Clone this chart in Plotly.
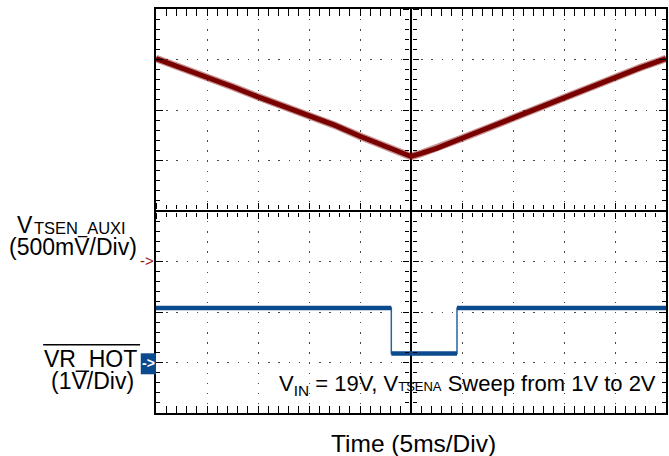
import plotly.graph_objects as go

# ---- waveform data (time in ms relative to trigger, levels in volts) ----
t_red = [-25, -22.5, -20, -17.5, -15, -12.5, -10, -7.5, -5, -2.5, -1, 0,
         1, 2.5, 5, 7.5, 10, 12.5, 15, 17.5, 20, 22.5, 25]
v_red = [2.01, 1.92, 1.83, 1.73, 1.63, 1.54, 1.45, 1.35, 1.24, 1.14, 1.08, 1.04,
         1.07, 1.12, 1.22, 1.32, 1.42, 1.52, 1.63, 1.73, 1.82, 1.92, 2.01]

t_blue = [-25, -1.93, -1.93, 4.51, 4.51, 25]
v_blue = [1.08, 1.08, 0.18, 0.18, 1.08, 1.08]

# channel settings: volts per division and ground marker position (divisions from centre)
red_scale, red_ground = 0.5, -1
blue_scale, blue_ground = 1.0, -3
n_xdiv, n_ydiv = 10, 8
ms_per_div = 5

W, H = 669, 456
L, R, T, B = 156, 1, 9, 43
PW, PH = W - L - R, H - T - B

FONT = "Liberation Sans, Arial, sans-serif"
RED = "#7a0000"
BLUE = "#0b4a8c"


def px(xp):
    return (xp - L) / PW


def py(yp):
    return (H - B - yp) / PH


def ch_range(scale, ground):
    half = n_ydiv / 2
    return [(-half - ground) * scale, (half - ground) * scale]


xr = [-n_xdiv / 2 * ms_per_div, n_xdiv / 2 * ms_per_div]
yr = [-n_ydiv / 2, n_ydiv / 2]

fig = go.Figure()

# empty trace so the division grid subplot is laid out
fig.add_trace(go.Scatter(x=[None], y=[None], xaxis="x", yaxis="y", showlegend=False))

# red channel: soft halo plus core line
fig.add_trace(go.Scatter(x=t_red, y=v_red, xaxis="x", yaxis="y2", mode="lines",
                         line=dict(color="rgba(130,10,10,0.45)", width=7.5),
                         hoverinfo="skip", showlegend=False))
fig.add_trace(go.Scatter(x=t_red, y=v_red, xaxis="x", yaxis="y2", mode="lines",
                         line=dict(color=RED, width=5), showlegend=False))

# blue channel: thin edges, thick flat runs
fig.add_trace(go.Scatter(x=t_blue, y=v_blue, xaxis="x", yaxis="y3", mode="lines",
                         line=dict(color="#2a62a3", width=1.5), showlegend=False))
run_x, run_y = [], []
for i in range(len(t_blue) - 1):
    if v_blue[i] == v_blue[i + 1]:
        run_x += [t_blue[i], t_blue[i + 1], None]
        run_y += [v_blue[i], v_blue[i + 1], None]
fig.add_trace(go.Scatter(x=run_x, y=run_y, xaxis="x", yaxis="y3", mode="lines",
                         line=dict(color=BLUE, width=4.5), showlegend=False))

xdot = PH / n_ydiv / 5
ydot = PW / n_xdiv / 5

common = dict(showticklabels=False, tickcolor="black", fixedrange=True)

fig.update_layout(
    width=W, height=H, autosize=False,
    margin=dict(l=L, r=R, t=T, b=B, pad=0),
    paper_bgcolor="white", plot_bgcolor="rgba(0,0,0,0)",
    showlegend=False,
    xaxis=dict(range=xr, dtick=ms_per_div, tick0=0, domain=[0, 1], anchor="y",
               showgrid=True, gridcolor="#4a4a4a", gridwidth=1.2,
               griddash=f"1.3px,{xdot - 1.3:.1f}px",
               zeroline=True, zerolinecolor="black", zerolinewidth=1.5,
               showline=True, linecolor="black", linewidth=1.5, mirror="allticks",
               ticks="inside", ticklen=7, tickwidth=1.2,
               minor=dict(dtick=1, ticks="inside", ticklen=4, tickwidth=1,
                          tickcolor="black", showgrid=False),
               **common),
    yaxis=dict(range=yr, dtick=1, tick0=0, domain=[0, 1], anchor="x",
               showgrid=True, gridcolor="#4a4a4a", gridwidth=1.2,
               griddash=f"1.3px,{ydot - 1.3:.1f}px",
               zeroline=True, zerolinecolor="black", zerolinewidth=1.5,
               showline=True, linecolor="black", linewidth=1.5, mirror="allticks",
               ticks="inside", ticklen=7, tickwidth=1.2,
               minor=dict(dtick=0.2, ticks="inside", ticklen=4, tickwidth=1,
                          tickcolor="black", showgrid=False),
               **common),
    yaxis2=dict(range=ch_range(red_scale, red_ground), overlaying="y", anchor="x",
                visible=False, fixedrange=True),
    yaxis3=dict(range=ch_range(blue_scale, blue_ground), overlaying="y", anchor="x",
                visible=False, fixedrange=True),
    # thin strips along the centre lines: their mirrored ticks straddle the cross-hair
    xaxis2=dict(range=xr, domain=[0, 1], anchor="y4",
                showgrid=False, zeroline=False, showline=False, mirror="allticks",
                dtick=ms_per_div, tick0=0, ticks="outside", ticklen=6, tickwidth=1.2,
                minor=dict(dtick=1, ticks="outside", ticklen=4, tickwidth=1,
                           tickcolor="black"),
                **common),
    yaxis4=dict(range=[0, 1], domain=[0.4985, 0.5015], anchor="x2", visible=False,
                fixedrange=True),
    yaxis5=dict(range=yr, domain=[0, 1], anchor="x3",
                showgrid=False, zeroline=False, showline=False, mirror="allticks",
                dtick=1, tick0=0, ticks="outside", ticklen=6, tickwidth=1.2,
                minor=dict(dtick=0.2, ticks="outside", ticklen=4, tickwidth=1,
                           tickcolor="black"),
                **common),
    xaxis3=dict(range=[0, 1], domain=[0.4985, 0.5015], anchor="y5", visible=False,
                fixedrange=True),
)
fig.add_trace(go.Scatter(x=[None], y=[None], xaxis="x2", yaxis="y4", showlegend=False))
fig.add_trace(go.Scatter(x=[None], y=[None], xaxis="x3", yaxis="y5", showlegend=False))


def label(text, x, y, size, color="black", xanchor="left"):
    fig.add_annotation(text=text, x=px(x), y=py(y), xref="paper", yref="paper",
                       xanchor=xanchor, yanchor="middle", showarrow=False,
                       font=dict(family=FONT, size=size, color=color))


# channel captions
label("V", 14, 225.3, 23)
label("TSEN_AUXI", 31.5, 228.7, 16.5)
label("(500mV/Div)", 6, 246.7, 23)
label("VR_HOT", 42, 358.5, 23)
label("(1V/Div)", 49, 381.3, 23)
fig.add_shape(type="line", xref="paper", yref="paper",
              x0=px(42.7), x1=px(140), y0=py(344.8), y1=py(344.8),
              line=dict(color="black", width=1.6))

# ground markers
label("->", 156, 260.5, 15, color="#9a1010", xanchor="right")
fig.add_shape(type="rect", xref="paper", yref="paper",
              x0=px(140.7), x1=px(156), y0=py(374.3), y1=py(353.3),
              line=dict(width=0), fillcolor=BLUE)
label("<b>-></b>", 148.5, 362.5, 14, color="white", xanchor="center")

# test condition text inside the grid
label("V<sub>IN</sub> = 19V, V<span style='font-size:13px'>TSENA</span> Sweep from 1V to 2V",
      277, 384.5, 22)

# time base caption
label("Time (5ms/Div)", 414.7, 443.3, 24.5, xanchor="center")

fig.write_html("out.html")
